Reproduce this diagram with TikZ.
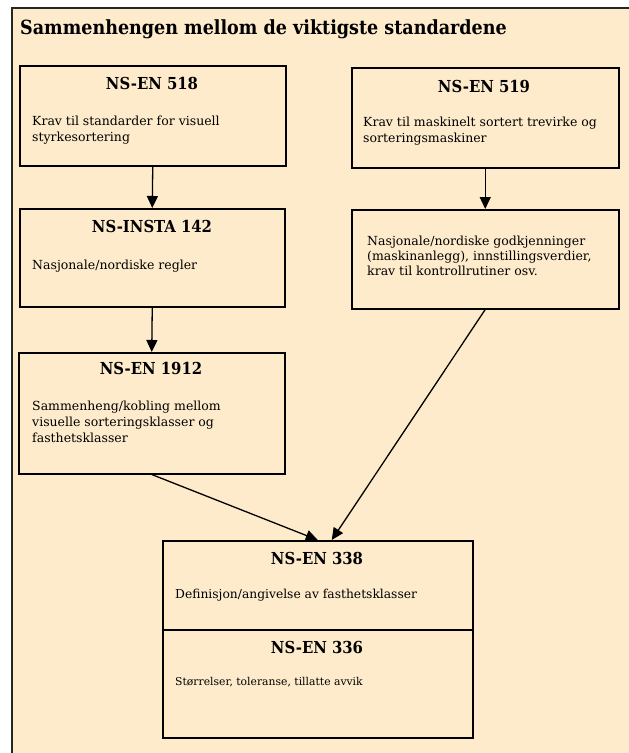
\documentclass[tikz,border=0pt]{standalone}
\usepackage{fontspec}
\setmainfont{DejaVu Serif}
\newfontfamily\condserif{DejaVu Serif Condensed}
\usetikzlibrary{arrows.meta}
\definecolor{paper}{RGB}{254,235,203}
\tikzset{
  stdbox/.style={draw=black,line width=1.5pt,fill=paper,anchor=north west,inner sep=0pt},
  stdtitle/.style={anchor=base,font=\condserif\bfseries\fontsize{16.5}{18}\selectfont},
  stdtext/.style={anchor=base west,align=left,inner sep=0pt,font=\fontsize{12.5}{16}\selectfont},
  link/.style={line width=1.3pt,-{Triangle[length=12pt,width=11pt]}}
}
\begin{document}
\begin{tikzpicture}[x=1pt,y=-1pt]
\useasboundingbox (0,0) rectangle (629,753);
\clip (0,0) rectangle (629,753);
\filldraw[fill=paper,draw=black!85,line width=2.5pt] (12,8) rectangle (680,800);
\node[anchor=base west,inner sep=0pt,font=\condserif\bfseries\fontsize{19.5}{22}\selectfont] (heading) at (20,34) {Sammenhengen mellom de viktigste standardene};
% boxes
\node[stdbox,minimum width=266pt,minimum height=100pt] (en518) at (19,65) {};
\node[stdbox,minimum width=267pt,minimum height=100pt] (en519) at (351,67) {};
\node[stdbox,minimum width=265pt,minimum height=98pt] (insta) at (19,208) {};
\node[stdbox,minimum width=267pt,minimum height=99pt] (nordic) at (351,209) {};
\node[stdbox,minimum width=266pt,minimum height=121pt] (en1912) at (18,352) {};
\node[stdbox,minimum width=310pt,minimum height=89pt] (en338) at (162,540) {};
\node[stdbox,minimum width=310pt,minimum height=108pt] (en336) at (162,629) {};
% titles
\node[stdtitle] (en518t) at (152,89) {NS-EN 518};
\node[stdtitle] (en519t) at (484,92) {NS-EN 519};
\node[stdtitle] (instat) at (152,232) {NS-INSTA 142};
\node[stdtitle] (en1912t) at (151,374) {NS-EN 1912};
\node[stdtitle] (en338t) at (317,564) {NS-EN 338};
\node[stdtitle] (en336t) at (317,653) {NS-EN 336};
% texts (anchored at the last line)
\node[stdtext] (en518x) at (32,141) {Krav til standarder for visuell\\styrkesortering};
\node[stdtext] (en519x) at (363,142) {Krav til maskinelt sortert trevirke og\\sorteringsmaskiner};
\node[stdtext] (instax) at (32,269) {Nasjonale/nordiske regler};
\node[stdtext,font=\fontsize{12.5}{15}\selectfont] (nordicx) at (367,275) {Nasjonale/nordiske godkjenninger\\(maskinanlegg), innstillingsverdier,\\krav til kontrollrutiner osv.};
\node[stdtext] (en1912x) at (32,442) {Sammenheng/kobling mellom\\visuelle sorteringsklasser og\\fasthetsklasser};
\node[stdtext,font=\fontsize{12.3}{16}\selectfont] (en338x) at (175,598) {Definisjon/angivelse av fasthetsklasser};
\node[stdtext,font=\fontsize{10.8}{16}\selectfont] (en336x) at (175,685) {Størrelser, toleranse, tillatte avvik};
% arrows
\draw[link] (en518.south) -- (insta.north);
\draw[link] (en519.south) -- (nordic.north);
\draw[link] (insta.south) -- (en1912.north);
\draw[link] (en1912.south) -- (en338.north);
\draw[link] (nordic.south) -- ([xshift=14pt]en338.north);
\end{tikzpicture}
\end{document}
